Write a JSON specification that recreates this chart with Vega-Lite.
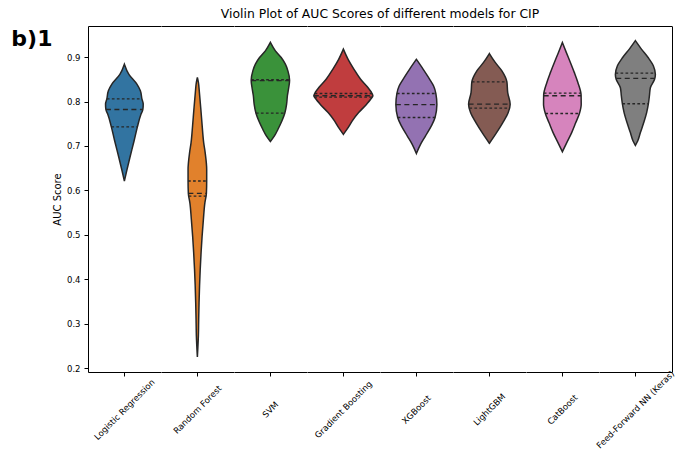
{
  "$schema": "https://vega.github.io/schema/vega-lite/v6.json",
  "padding": {"left": 11, "top": 7, "right": 8, "bottom": 5},
  "title": {"text": "b)1", "orient": "left", "anchor": "end", "angle": 0, "fontSize": 22, "fontWeight": "bold", "font": "DejaVu Sans", "color": "black", "align": "left", "baseline": "top", "offset": 0, "dy": 21},
  "data": {"values": [
    {"model":"Logistic Regression","kind":"shape","auc":0.884,"lo":0,"hi":0},
    {"model":"Logistic Regression","kind":"shape","auc":0.861,"lo":-0.062,"hi":0.062},
    {"model":"Logistic Regression","kind":"shape","auc":0.839,"lo":-0.172,"hi":0.172},
    {"model":"Logistic Regression","kind":"shape","auc":0.824,"lo":-0.220,"hi":0.220},
    {"model":"Logistic Regression","kind":"shape","auc":0.806,"lo":-0.241,"hi":0.241},
    {"model":"Logistic Regression","kind":"shape","auc":0.794,"lo":-0.259,"hi":0.259},
    {"model":"Logistic Regression","kind":"shape","auc":0.782,"lo":-0.254,"hi":0.254},
    {"model":"Logistic Regression","kind":"shape","auc":0.771,"lo":-0.227,"hi":0.227},
    {"model":"Logistic Regression","kind":"shape","auc":0.743,"lo":-0.179,"hi":0.179},
    {"model":"Logistic Regression","kind":"shape","auc":0.711,"lo":-0.133,"hi":0.133},
    {"model":"Logistic Regression","kind":"shape","auc":0.674,"lo":-0.076,"hi":0.076},
    {"model":"Logistic Regression","kind":"shape","auc":0.644,"lo":-0.032,"hi":0.032},
    {"model":"Logistic Regression","kind":"shape","auc":0.621,"lo":0,"hi":0},
    {"model":"Logistic Regression","kind":"quartile","auc":0.806,"lo":-0.241,"hi":0.241},
    {"model":"Logistic Regression","kind":"median","auc":0.782,"lo":-0.254,"hi":0.254},
    {"model":"Logistic Regression","kind":"quartile","auc":0.743,"lo":-0.179,"hi":0.179},

    {"model":"Random Forest","kind":"shape","auc":0.854,"lo":0,"hi":0},
    {"model":"Random Forest","kind":"shape","auc":0.843,"lo":-0.014,"hi":0.014},
    {"model":"Random Forest","kind":"shape","auc":0.820,"lo":-0.028,"hi":0.028},
    {"model":"Random Forest","kind":"shape","auc":0.782,"lo":-0.048,"hi":0.048},
    {"model":"Random Forest","kind":"shape","auc":0.745,"lo":-0.066,"hi":0.066},
    {"model":"Random Forest","kind":"shape","auc":0.707,"lo":-0.087,"hi":0.087},
    {"model":"Random Forest","kind":"shape","auc":0.685,"lo":-0.107,"hi":0.107},
    {"model":"Random Forest","kind":"shape","auc":0.647,"lo":-0.128,"hi":0.128},
    {"model":"Random Forest","kind":"shape","auc":0.621,"lo":-0.128,"hi":0.128},
    {"model":"Random Forest","kind":"shape","auc":0.593,"lo":-0.124,"hi":0.124},
    {"model":"Random Forest","kind":"shape","auc":0.572,"lo":-0.103,"hi":0.103},
    {"model":"Random Forest","kind":"shape","auc":0.535,"lo":-0.083,"hi":0.083},
    {"model":"Random Forest","kind":"shape","auc":0.497,"lo":-0.065,"hi":0.065},
    {"model":"Random Forest","kind":"shape","auc":0.460,"lo":-0.051,"hi":0.051},
    {"model":"Random Forest","kind":"shape","auc":0.422,"lo":-0.039,"hi":0.039},
    {"model":"Random Forest","kind":"shape","auc":0.385,"lo":-0.030,"hi":0.030},
    {"model":"Random Forest","kind":"shape","auc":0.347,"lo":-0.023,"hi":0.023},
    {"model":"Random Forest","kind":"shape","auc":0.310,"lo":-0.018,"hi":0.018},
    {"model":"Random Forest","kind":"shape","auc":0.273,"lo":-0.014,"hi":0.014},
    {"model":"Random Forest","kind":"shape","auc":0.225,"lo":0,"hi":0},
    {"model":"Random Forest","kind":"quartile","auc":0.621,"lo":-0.128,"hi":0.128},
    {"model":"Random Forest","kind":"median","auc":0.593,"lo":-0.124,"hi":0.124},
    {"model":"Random Forest","kind":"quartile","auc":0.587,"lo":-0.120,"hi":0.120},

    {"model":"SVM","kind":"shape","auc":0.933,"lo":0,"hi":0},
    {"model":"SVM","kind":"shape","auc":0.914,"lo":-0.069,"hi":0.069},
    {"model":"SVM","kind":"shape","auc":0.899,"lo":-0.149,"hi":0.149},
    {"model":"SVM","kind":"shape","auc":0.884,"lo":-0.206,"hi":0.206},
    {"model":"SVM","kind":"shape","auc":0.869,"lo":-0.241,"hi":0.241},
    {"model":"SVM","kind":"shape","auc":0.848,"lo":-0.264,"hi":0.264},
    {"model":"SVM","kind":"shape","auc":0.831,"lo":-0.252,"hi":0.252},
    {"model":"SVM","kind":"shape","auc":0.813,"lo":-0.234,"hi":0.234},
    {"model":"SVM","kind":"shape","auc":0.794,"lo":-0.223,"hi":0.223},
    {"model":"SVM","kind":"shape","auc":0.774,"lo":-0.199,"hi":0.199},
    {"model":"SVM","kind":"shape","auc":0.756,"lo":-0.158,"hi":0.158},
    {"model":"SVM","kind":"shape","auc":0.737,"lo":-0.103,"hi":0.103},
    {"model":"SVM","kind":"shape","auc":0.723,"lo":-0.058,"hi":0.058},
    {"model":"SVM","kind":"shape","auc":0.710,"lo":0,"hi":0},
    {"model":"SVM","kind":"quartile","auc":0.849,"lo":-0.264,"hi":0.264},
    {"model":"SVM","kind":"median","auc":0.847,"lo":-0.264,"hi":0.264},
    {"model":"SVM","kind":"quartile","auc":0.774,"lo":-0.199,"hi":0.199},

    {"model":"Gradient Boosting","kind":"shape","auc":0.918,"lo":0,"hi":0},
    {"model":"Gradient Boosting","kind":"shape","auc":0.895,"lo":-0.065,"hi":0.065},
    {"model":"Gradient Boosting","kind":"shape","auc":0.873,"lo":-0.144,"hi":0.144},
    {"model":"Gradient Boosting","kind":"shape","auc":0.850,"lo":-0.237,"hi":0.237},
    {"model":"Gradient Boosting","kind":"shape","auc":0.831,"lo":-0.340,"hi":0.340},
    {"model":"Gradient Boosting","kind":"shape","auc":0.822,"lo":-0.380,"hi":0.380},
    {"model":"Gradient Boosting","kind":"shape","auc":0.813,"lo":-0.406,"hi":0.406},
    {"model":"Gradient Boosting","kind":"shape","auc":0.805,"lo":-0.375,"hi":0.375},
    {"model":"Gradient Boosting","kind":"shape","auc":0.794,"lo":-0.320,"hi":0.320},
    {"model":"Gradient Boosting","kind":"shape","auc":0.775,"lo":-0.210,"hi":0.210},
    {"model":"Gradient Boosting","kind":"shape","auc":0.756,"lo":-0.120,"hi":0.120},
    {"model":"Gradient Boosting","kind":"shape","auc":0.741,"lo":-0.065,"hi":0.065},
    {"model":"Gradient Boosting","kind":"shape","auc":0.726,"lo":0,"hi":0},
    {"model":"Gradient Boosting","kind":"quartile","auc":0.818,"lo":-0.395,"hi":0.395},
    {"model":"Gradient Boosting","kind":"median","auc":0.813,"lo":-0.406,"hi":0.406},
    {"model":"Gradient Boosting","kind":"quartile","auc":0.810,"lo":-0.400,"hi":0.400},

    {"model":"XGBoost","kind":"shape","auc":0.895,"lo":0,"hi":0},
    {"model":"XGBoost","kind":"shape","auc":0.873,"lo":-0.092,"hi":0.092},
    {"model":"XGBoost","kind":"shape","auc":0.850,"lo":-0.183,"hi":0.183},
    {"model":"XGBoost","kind":"shape","auc":0.835,"lo":-0.237,"hi":0.237},
    {"model":"XGBoost","kind":"shape","auc":0.818,"lo":-0.268,"hi":0.268},
    {"model":"XGBoost","kind":"shape","auc":0.793,"lo":-0.282,"hi":0.282},
    {"model":"XGBoost","kind":"shape","auc":0.764,"lo":-0.257,"hi":0.257},
    {"model":"XGBoost","kind":"shape","auc":0.745,"lo":-0.206,"hi":0.206},
    {"model":"XGBoost","kind":"shape","auc":0.722,"lo":-0.124,"hi":0.124},
    {"model":"XGBoost","kind":"shape","auc":0.704,"lo":-0.059,"hi":0.059},
    {"model":"XGBoost","kind":"shape","auc":0.683,"lo":0,"hi":0},
    {"model":"XGBoost","kind":"quartile","auc":0.818,"lo":-0.268,"hi":0.268},
    {"model":"XGBoost","kind":"median","auc":0.793,"lo":-0.282,"hi":0.282},
    {"model":"XGBoost","kind":"quartile","auc":0.764,"lo":-0.257,"hi":0.257},

    {"model":"LightGBM","kind":"shape","auc":0.908,"lo":0,"hi":0},
    {"model":"LightGBM","kind":"shape","auc":0.888,"lo":-0.080,"hi":0.080},
    {"model":"LightGBM","kind":"shape","auc":0.869,"lo":-0.172,"hi":0.172},
    {"model":"LightGBM","kind":"shape","auc":0.844,"lo":-0.241,"hi":0.241},
    {"model":"LightGBM","kind":"shape","auc":0.820,"lo":-0.252,"hi":0.252},
    {"model":"LightGBM","kind":"shape","auc":0.794,"lo":-0.286,"hi":0.286},
    {"model":"LightGBM","kind":"shape","auc":0.775,"lo":-0.259,"hi":0.259},
    {"model":"LightGBM","kind":"shape","auc":0.752,"lo":-0.183,"hi":0.183},
    {"model":"LightGBM","kind":"shape","auc":0.730,"lo":-0.099,"hi":0.099},
    {"model":"LightGBM","kind":"shape","auc":0.706,"lo":0,"hi":0},
    {"model":"LightGBM","kind":"quartile","auc":0.844,"lo":-0.241,"hi":0.241},
    {"model":"LightGBM","kind":"median","auc":0.794,"lo":-0.286,"hi":0.286},
    {"model":"LightGBM","kind":"quartile","auc":0.785,"lo":-0.275,"hi":0.275},

    {"model":"CatBoost","kind":"shape","auc":0.933,"lo":0,"hi":0},
    {"model":"CatBoost","kind":"shape","auc":0.910,"lo":-0.055,"hi":0.055},
    {"model":"CatBoost","kind":"shape","auc":0.888,"lo":-0.110,"hi":0.110},
    {"model":"CatBoost","kind":"shape","auc":0.865,"lo":-0.165,"hi":0.165},
    {"model":"CatBoost","kind":"shape","auc":0.843,"lo":-0.213,"hi":0.213},
    {"model":"CatBoost","kind":"shape","auc":0.815,"lo":-0.257,"hi":0.257},
    {"model":"CatBoost","kind":"shape","auc":0.794,"lo":-0.259,"hi":0.259},
    {"model":"CatBoost","kind":"shape","auc":0.773,"lo":-0.234,"hi":0.234},
    {"model":"CatBoost","kind":"shape","auc":0.752,"lo":-0.183,"hi":0.183},
    {"model":"CatBoost","kind":"shape","auc":0.730,"lo":-0.128,"hi":0.128},
    {"model":"CatBoost","kind":"shape","auc":0.707,"lo":-0.059,"hi":0.059},
    {"model":"CatBoost","kind":"shape","auc":0.687,"lo":0,"hi":0},
    {"model":"CatBoost","kind":"quartile","auc":0.819,"lo":-0.255,"hi":0.255},
    {"model":"CatBoost","kind":"median","auc":0.813,"lo":-0.257,"hi":0.257},
    {"model":"CatBoost","kind":"quartile","auc":0.773,"lo":-0.234,"hi":0.234},

    {"model":"Feed-Forward NN (Keras)","kind":"shape","auc":0.937,"lo":0,"hi":0},
    {"model":"Feed-Forward NN (Keras)","kind":"shape","auc":0.918,"lo":-0.083,"hi":0.083},
    {"model":"Feed-Forward NN (Keras)","kind":"shape","auc":0.899,"lo":-0.175,"hi":0.175},
    {"model":"Feed-Forward NN (Keras)","kind":"shape","auc":0.880,"lo":-0.248,"hi":0.248},
    {"model":"Feed-Forward NN (Keras)","kind":"shape","auc":0.861,"lo":-0.275,"hi":0.275},
    {"model":"Feed-Forward NN (Keras)","kind":"shape","auc":0.850,"lo":-0.264,"hi":0.264},
    {"model":"Feed-Forward NN (Keras)","kind":"shape","auc":0.831,"lo":-0.206,"hi":0.206},
    {"model":"Feed-Forward NN (Keras)","kind":"shape","auc":0.813,"lo":-0.193,"hi":0.193},
    {"model":"Feed-Forward NN (Keras)","kind":"shape","auc":0.795,"lo":-0.179,"hi":0.179},
    {"model":"Feed-Forward NN (Keras)","kind":"shape","auc":0.775,"lo":-0.155,"hi":0.155},
    {"model":"Feed-Forward NN (Keras)","kind":"shape","auc":0.752,"lo":-0.114,"hi":0.114},
    {"model":"Feed-Forward NN (Keras)","kind":"shape","auc":0.730,"lo":-0.069,"hi":0.069},
    {"model":"Feed-Forward NN (Keras)","kind":"shape","auc":0.711,"lo":-0.032,"hi":0.032},
    {"model":"Feed-Forward NN (Keras)","kind":"shape","auc":0.701,"lo":0,"hi":0},
    {"model":"Feed-Forward NN (Keras)","kind":"quartile","auc":0.864,"lo":-0.273,"hi":0.273},
    {"model":"Feed-Forward NN (Keras)","kind":"median","auc":0.852,"lo":-0.263,"hi":0.263},
    {"model":"Feed-Forward NN (Keras)","kind":"quartile","auc":0.795,"lo":-0.179,"hi":0.179}
  ]},
  "facet": {
    "column": {
      "field": "model", "type": "nominal",
      "sort": ["Logistic Regression","Random Forest","SVM","Gradient Boosting","XGBoost","LightGBM","CatBoost","Feed-Forward NN (Keras)"],
      "title": "Violin Plot of AUC Scores of different models for CIP",
      "header": {
        "labelOrient": "bottom", "labelAngle": -45, "labelAlign": "center", "labelBaseline": "middle",
        "labelFontSize": 8.5, "labelFont": "DejaVu Sans", "labelColor": "black", "labelPadding": 33,
        "titleOrient": "top", "titleFontSize": 12.4, "titleFontWeight": "normal", "titleFont": "DejaVu Sans", "titleColor": "black", "titlePadding": -4
      }
    }
  },
  "spacing": 0,
  "spec": {
    "width": 72.75,
    "height": 346,
    "layer": [
      {
        "transform": [{"filter": "datum.kind == 'shape'"}],
        "mark": {"type": "area", "orient": "horizontal", "interpolate": "monotone", "stroke": "#262626", "strokeWidth": 1.5, "opacity": 1},
        "encoding": {
          "y": {"field": "auc", "type": "quantitative", "scale": {"domain": [0.191, 0.970], "nice": false, "zero": false},
                "axis": {"title": "AUC Score", "values": [0.2,0.3,0.4,0.5,0.6,0.7,0.8,0.9], "format": ".1f", "tickSize": 4, "labelPadding": 4, "titlePadding": 4, "labelFontSize": 8.5}},
          "x": {"field": "lo", "type": "quantitative", "scale": {"domain": [-0.5, 0.5], "nice": false, "zero": false},
                "axis": {"orient": "bottom", "values": [0], "labels": false, "title": null, "tickSize": 4}},
          "x2": {"field": "hi"},
          "color": {"field": "model", "type": "nominal",
                    "scale": {"domain": ["Logistic Regression","Random Forest","SVM","Gradient Boosting","XGBoost","LightGBM","CatBoost","Feed-Forward NN (Keras)"],
                              "range": ["#3274a1","#e1812c","#3a923a","#c03d3e","#9372b2","#845b53","#d684bd","#7f7f7f"]},
                    "legend": null}
        }
      },
      {
        "transform": [{"filter": "datum.kind != 'shape'"}],
        "mark": {"type": "rule", "stroke": "#262626", "strokeWidth": 1.3},
        "encoding": {
          "y": {"field": "auc", "type": "quantitative",
                "axis": {"orient": "right", "labels": false, "ticks": false, "title": null}},
          "x": {"field": "lo", "type": "quantitative",
                "axis": {"orient": "top", "labels": false, "ticks": false, "title": null}},
          "x2": {"field": "hi"},
          "strokeDash": {"field": "kind", "type": "nominal",
                         "scale": {"domain": ["median","quartile"], "range": [[5,3.5],[2.7,2.3]]}, "legend": null}
        }
      }
    ],
    "resolve": {"axis": {"x": "independent", "y": "independent"}}
  },
  "config": {
    "view": {"stroke": null},
    "axis": {"grid": false, "domainColor": "black", "tickColor": "black", "labelColor": "black", "titleColor": "black",
             "labelFont": "DejaVu Sans", "titleFont": "DejaVu Sans", "labelFontSize": 10, "titleFontSize": 10, "titleFontWeight": "normal",
             "domainWidth": 1, "tickWidth": 1}
  }
}
